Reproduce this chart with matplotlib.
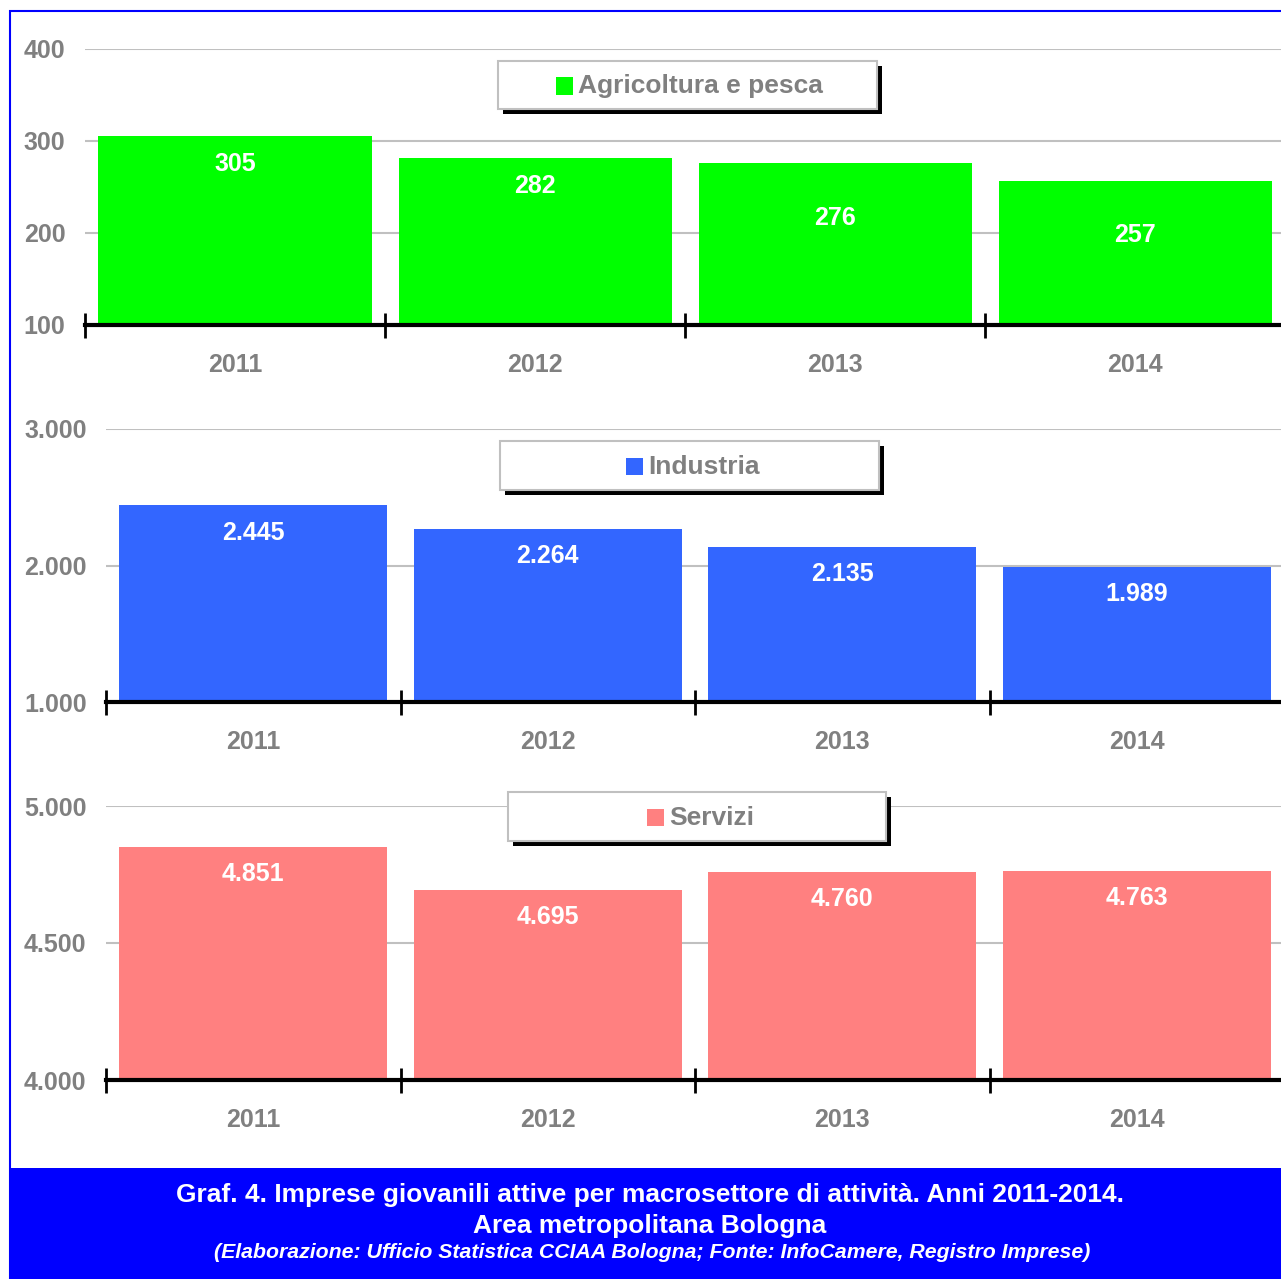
import matplotlib
matplotlib.use("Agg")
from matplotlib import pyplot as plt
from matplotlib import patches as patches
from matplotlib.ticker import FuncFormatter, FixedLocator

plt.rcParams['font.family'] = ['Liberation Sans', 'DejaVu Sans']
plt.rcParams['font.weight'] = 'bold'

W, H = 1281, 1279

years = ["2011", "2012", "2013", "2014"]

agri = [305, 282, 276, 257]
industria = [2445, 2264, 2135, 1989]
servizi = [4851, 4695, 4760, 4763]

agri_ticks = [100, 200, 300, 400]
industria_ticks = [1000, 2000, 3000]
servizi_ticks = [4000, 4500, 5000]

titles = ["Agricoltura e pesca", "Industria", "Servizi"]
colors = ["#00FF00", "#3366FF", "#FF8080"]

caption1 = "Graf. 4. Imprese giovanili attive per macrosettore di attività. Anni 2011-2014."
caption2 = "Area metropolitana Bologna"
caption3 = "(Elaborazione: Ufficio Statistica CCIAA Bologna; Fonte: InfoCamere, Registro Imprese)"

GREY = "#808080"


def fx(px):
    return px / W


def fy(py):
    return 1 - py / H


def it_num(v, pos=None):
    # thousands separator as a dot
    return f"{int(v):,}".replace(",", ".")


fig = plt.figure(figsize=(W / 100, H / 100), dpi=100)

# panel layout in pixels: left, right, y of top tick, y of axis
panels = [
    (85, 1285, 49, 325),
    (106, 1284, 429, 702),
    (106, 1284, 806, 1080),
]
# legend boxes: x0, y0, x1, y1 and x of the colour square
legends = [
    (498, 61, 877, 109, 556),
    (500, 441, 879, 490, 626),
    (508, 792, 886, 841, 647),
]
# distance of the value label below the top of the bar (px)
label_drop = [
    [28, 28, 55, 54],
    [28, 27, 27, 27],
    [27, 27, 27, 27],
]

data = [agri, industria, servizi]
ticks = [agri_ticks, industria_ticks, servizi_ticks]

for k in range(3):
    left, right, top, base = panels[k]
    ax = fig.add_axes([fx(left), fy(base), fx(right - left), (base - top) / H])
    vals = data[k]
    yt = ticks[k]
    ax.set_xlim(0, 4)
    ax.set_ylim(yt[0], yt[-1])
    ax.set_facecolor("none")

    xs = [i + 0.5 for i in range(len(years))]
    ax.bar(xs, [v - yt[0] for v in vals], bottom=yt[0], width=0.91,
           color=colors[k], zorder=2)

    # grid
    ax.yaxis.set_major_locator(FixedLocator(yt))
    ax.yaxis.set_major_formatter(FuncFormatter(it_num))
    for v in yt[1:]:
        ax.axhline(v, color="#C0C0C0", lw=1.5, zorder=1)

    ax.tick_params(axis="y", length=0, pad=14, labelsize=18, labelcolor=GREY)
    for lab in ax.get_yticklabels():
        lab.set_fontweight("bold")

    # category axis with boundary ticks
    ax.xaxis.set_major_locator(FixedLocator([0, 1, 2, 3]))
    ax.set_xticklabels([])
    ax.tick_params(axis="x", direction="inout", length=18, width=2,
                   color="black")
    for s in ["top", "right", "left"]:
        ax.spines[s].set_visible(False)
    ax.spines["bottom"].set_linewidth(3)
    ax.spines["bottom"].set_zorder(3)

    for i, yr in enumerate(years):
        ax.annotate(yr, xy=(xs[i], 0), xycoords=("data", "axes fraction"),
                    xytext=(0, -40 * 0.72), textcoords="offset points",
                    ha="center", va="center", fontsize=18, color=GREY,
                    fontweight="bold")
        ax.annotate(it_num(vals[i]), xy=(xs[i], vals[i]),
                    xytext=(0, -label_drop[k][i] * 0.72),
                    textcoords="offset points", ha="center", va="center",
                    fontsize=18, color="white", fontweight="bold", zorder=4)

    # legend box with drop shadow
    x0, y0, x1, y1, sq = legends[k]
    fig.patches.append(patches.Rectangle(
        (fx(x0 + 5), fy(y1 + 5)), fx(x1 - x0), (y1 - y0) / H,
        transform=fig.transFigure, facecolor="black", edgecolor="none",
        zorder=5))
    fig.patches.append(patches.Rectangle(
        (fx(x0), fy(y1)), fx(x1 - x0), (y1 - y0) / H,
        transform=fig.transFigure, facecolor="white", edgecolor="#C0C0C0",
        linewidth=1.5, zorder=6))
    yc = (y0 + y1) / 2
    fig.patches.append(patches.Rectangle(
        (fx(sq), fy(yc + 9.5)), fx(17), 17 / H,
        transform=fig.transFigure, facecolor=colors[k], edgecolor="none",
        zorder=7))
    fig.text(fx(sq + 22), fy(yc + 1.5), titles[k], ha="left", va="center",
             fontsize=19, color=GREY, fontweight="bold", zorder=8)

# outer blue frame
fig.patches.append(patches.Rectangle(
    (fx(9.5), fy(1279)), fx(1290), (1279 - 10.5) / H,
    transform=fig.transFigure, facecolor="none", edgecolor="#0000FF",
    linewidth=1.5, zorder=9))

# caption band
fig.patches.append(patches.Rectangle(
    (fx(9), 0), fx(W), (1279 - 1168) / H,
    transform=fig.transFigure, facecolor="#0000FF", edgecolor="none",
    zorder=9))
fig.text(fx(650), fy(1195), caption1, ha="center", va="center",
         fontsize=19, color="white", fontweight="bold", zorder=10)
fig.text(fx(650), fy(1226), caption2, ha="center", va="center",
         fontsize=19, color="white", fontweight="bold", zorder=10)
fig.text(fx(652), fy(1253), caption3, ha="center", va="center",
         fontsize=15.3, color="white", fontweight="bold", style="italic",
         zorder=10)

fig.savefig("out.png", dpi=100)
plt.close(fig)
